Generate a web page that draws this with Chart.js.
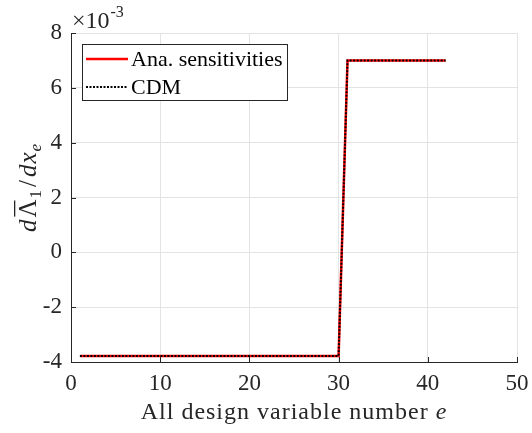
<!DOCTYPE html>
<html>
<head>
<meta charset="utf-8">
<script src="https://cdn.jsdelivr.net/npm/chart.js@4/dist/chart.umd.min.js"></script>
<style>
  html, body { margin: 0; padding: 0; background: #fff; }
  #wrap { width: 532px; height: 433px; }
</style>
</head>
<body>
<div id="wrap"><canvas id="sensGraph"></canvas></div>
<script>
//data section
const designVars = [1, 2, 3, 4, 5, 6, 7, 8, 9, 10, 11, 12, 13, 14, 15, 16, 17, 18, 19, 20,
    21, 22, 23, 24, 25, 26, 27, 28, 29, 30, 31, 32, 33, 34, 35, 36, 37, 38, 39, 40, 41, 42];
const anaSens = [-0.00378, -0.00378, -0.00378, -0.00378, -0.00378, -0.00378, -0.00378, -0.00378, -0.00378, -0.00378,
    -0.00378, -0.00378, -0.00378, -0.00378, -0.00378, -0.00378, -0.00378, -0.00378, -0.00378, -0.00378,
    -0.00378, -0.00378, -0.00378, -0.00378, -0.00378, -0.00378, -0.00378, -0.00378, -0.00378, -0.00378,
    0.0070, 0.0070, 0.0070, 0.0070, 0.0070, 0.0070, 0.0070, 0.0070, 0.0070, 0.0070, 0.0070, 0.0070];
const cdmSens = [-0.00378, -0.00378, -0.00378, -0.00378, -0.00378, -0.00378, -0.00378, -0.00378, -0.00378, -0.00378,
    -0.00378, -0.00378, -0.00378, -0.00378, -0.00378, -0.00378, -0.00378, -0.00378, -0.00378, -0.00378,
    -0.00378, -0.00378, -0.00378, -0.00378, -0.00378, -0.00378, -0.00378, -0.00378, -0.00378, -0.00378,
    0.0070, 0.0070, 0.0070, 0.0070, 0.0070, 0.0070, 0.0070, 0.0070, 0.0070, 0.0070, 0.0070, 0.0070];
const seriesNames = ['Ana. sensitivities', 'CDM'];
const xTickValues = [0, 10, 20, 30, 40, 50];
const yTickValues = [-0.004, -0.002, 0, 0.002, 0.004, 0.006, 0.008];

//style
const serif = "'Liberation Serif', 'Times New Roman', serif";
const axisColor = '#262626';

const toPoints = (ys) => designVars.map((x, i) => ({ x: x, y: ys[i] }));

//inward tick marks, exponent, axis titles and legend box
const decorPlugin = {
    id: 'decor',
    afterDraw(chart) {
        const ctx = chart.ctx;
        const xs = chart.scales.x;
        const ys = chart.scales.y;
        const area = chart.chartArea;
        ctx.save();

        //ticks pointing inside
        ctx.strokeStyle = axisColor;
        ctx.lineWidth = 1;
        ctx.beginPath();
        xTickValues.forEach(v => {
            const px = Math.round(xs.getPixelForValue(v)) + 0.5;
            ctx.moveTo(px, area.bottom);
            ctx.lineTo(px, area.bottom - 5);
        });
        yTickValues.forEach(v => {
            const py = Math.round(ys.getPixelForValue(v)) + 0.5;
            ctx.moveTo(area.left, py);
            ctx.lineTo(area.left + 5, py);
        });
        ctx.stroke();

        //x10^-3
        ctx.fillStyle = axisColor;
        ctx.textBaseline = 'alphabetic';
        ctx.textAlign = 'left';
        ctx.font = '24px ' + serif;
        ctx.fillText('\u00d710', 72, 28);
        const w = ctx.measureText('\u00d710').width;
        ctx.font = '16px ' + serif;
        ctx.fillText('-3', 72 + w + 1, 17);

        //x axis title
        ctx.letterSpacing = '1px';
        const t1 = 'All design variable number ';
        ctx.font = 'italic 24px ' + serif;
        const eW = ctx.measureText('e').width;
        ctx.font = '24px ' + serif;
        const t1W = ctx.measureText(t1).width;
        const cx = (area.left + area.right) / 2;
        const sx = cx - (t1W + eW) / 2;
        ctx.fillText(t1, sx, 419);
        ctx.font = 'italic 24px ' + serif;
        ctx.fillText('e', sx + t1W, 419);
        ctx.letterSpacing = '0px';

        //y axis title, rotated
        ctx.save();
        ctx.translate(36, 188);
        ctx.rotate(-Math.PI / 2);
        //text, font, baseline shift, gap after
        const parts = [
            ['d', 'italic 25px', 0, 2],
            ['\u039b', '25px', 0, 1],
            ['1', '17px', 5, 3],
            ['/', '25px', 0, 3],
            ['d', 'italic 25px', 0, 1],
            ['x', 'italic 25px', 0, 1],
            ['e', 'italic 17px', 5, 0]
        ];
        let total = 0;
        parts.forEach(p => { ctx.font = p[1] + ' ' + serif; total += ctx.measureText(p[0]).width + p[3]; });
        let px = -total / 2;
        parts.forEach(p => {
            ctx.font = p[1] + ' ' + serif;
            const pw = ctx.measureText(p[0]).width;
            ctx.fillText(p[0], px, p[2]);
            if (p[0] === '\u039b') {
                //bar over lambda
                ctx.fillRect(px + 1, -22, pw - 2, 1.3);
            }
            px += pw + p[3];
        });
        ctx.restore();

        //legend
        const lx = 82, ly = 44, lw = 205, lh = 56;
        ctx.fillStyle = '#ffffff';
        ctx.fillRect(lx, ly, lw, lh);
        ctx.strokeStyle = axisColor;
        ctx.lineWidth = 1;
        ctx.strokeRect(lx + 0.5, ly + 0.5, lw, lh);
        const rows = [ly + 15, ly + 43];
        chart.data.datasets.forEach((ds, i) => {
            ctx.save();
            ctx.strokeStyle = ds.borderColor;
            ctx.lineWidth = ds.borderWidth;
            ctx.setLineDash(ds.borderDash || []);
            ctx.beginPath();
            ctx.moveTo(lx + 4, rows[i]);
            ctx.lineTo(lx + 46, rows[i]);
            ctx.stroke();
            ctx.restore();
            ctx.fillStyle = '#000';
            ctx.font = '22px ' + serif;
            ctx.textBaseline = 'middle';
            ctx.fillText(ds.label, lx + 49, rows[i] + 1);
        });
        ctx.restore();
    }
};

const sensGraphMaster = () => {
    var ctx = document.getElementById('sensGraph').getContext('2d');
    var chart = new Chart(ctx, {
        type: 'line',
        data: {
            datasets: [{
                label: seriesNames[0],
                borderColor: '#ff0000',
                borderWidth: 2.5,
                order: 2,
                data: toPoints(anaSens)
            }, {
                label: seriesNames[1],
                borderColor: '#000000',
                borderWidth: 2,
                borderDash: [2, 1.5],
                order: 1,
                data: toPoints(cdmSens)
            }]
        },
        options: {
            responsive: true,
            maintainAspectRatio: false,
            animation: false,
            elements: { point: { radius: 0 }, line: { tension: 0 } },
            layout: {
                padding: { left: 0, right: 15, top: 33, bottom: 0 }
            },
            plugins: {
                legend: { display: false },
                tooltip: { enabled: false }
            },
            scales: {
                x: {
                    type: 'linear',
                    min: 0,
                    max: 50,
                    afterFit: (s) => { s.height = 71; s.paddingRight = 0; s.paddingLeft = 0; },
                    afterBuildTicks: (s) => { s.ticks = xTickValues.map(v => ({ value: v })); },
                    grid: { color: '#e3e3e3', drawTicks: false },
                    border: { color: axisColor, width: 1 },
                    ticks: {
                        padding: 8,
                        color: axisColor,
                        font: { family: serif, size: 23 }
                    }
                },
                y: {
                    min: -0.004,
                    max: 0.008,
                    afterFit: (s) => { s.width = 71; s.paddingTop = 0; s.paddingBottom = 0; },
                    afterBuildTicks: (s) => { s.ticks = yTickValues.map(v => ({ value: v })); },
                    grid: { color: '#e3e3e3', drawTicks: false },
                    border: { color: axisColor, width: 1 },
                    ticks: {
                        padding: 9,
                        color: axisColor,
                        font: { family: serif, size: 23 },
                        callback: (v) => String(Math.round(v * 1000))
                    }
                }
            }
        },
        plugins: [decorPlugin]
    });
};

sensGraphMaster()
</script>
</body>
</html>
